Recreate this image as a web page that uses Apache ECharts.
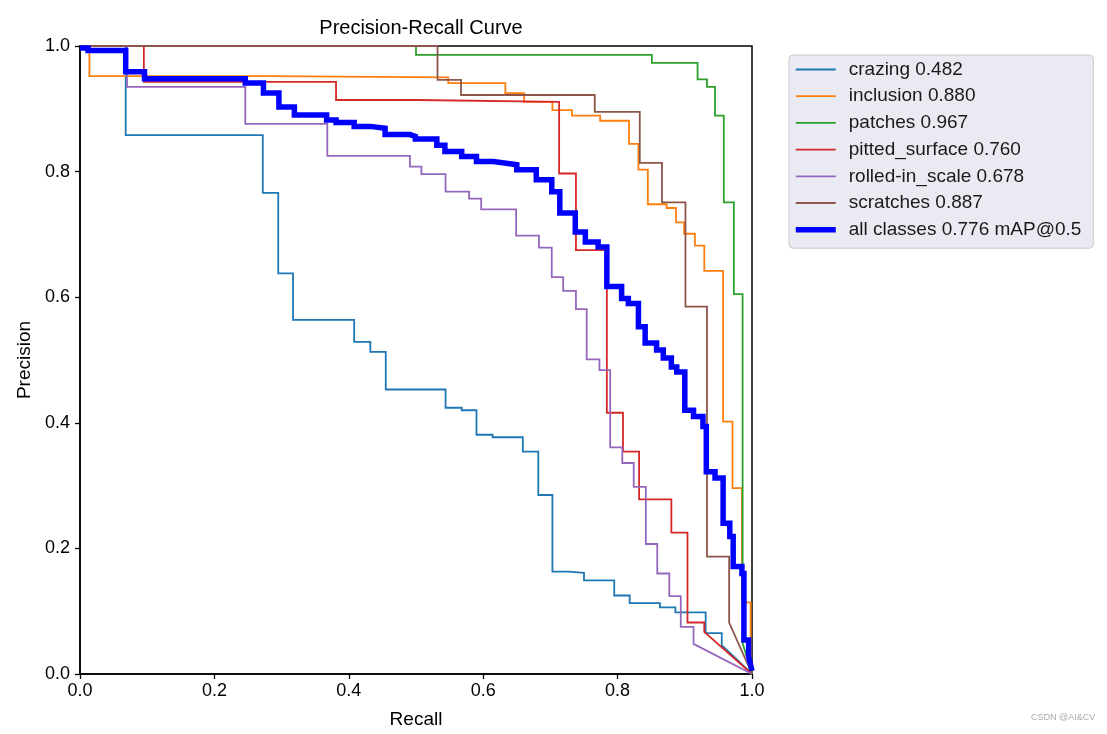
<!DOCTYPE html>
<html>
<head>
<meta charset="utf-8">
<script src="https://cdn.jsdelivr.net/npm/echarts@6/dist/echarts.min.js"></script>
<style>
  html, body { margin: 0; padding: 0; background: #fff; }
  #chart { width: 1107px; height: 734px; }
</style>
</head>
<body>
<div id="chart"></div>
<script>
// ---- data (recall, precision) ----
const classNames = ['crazing 0.482', 'inclusion 0.880', 'patches 0.967', 'pitted_surface 0.760', 'rolled-in_scale 0.678', 'scratches 0.887', 'all classes 0.776 mAP@0.5'];
const tickLabels = ['0.0', '0.2', '0.4', '0.6', '0.8', '1.0'];

const crazing = [[0,1],[0.068,1],[0.068,0.858],[0.272,0.858],[0.272,0.766],[0.295,0.766],[0.295,0.638],[0.317,0.638],[0.317,0.564],[0.408,0.564],[0.408,0.529],[0.432,0.529],[0.432,0.513],[0.455,0.513],[0.455,0.453],[0.544,0.453],[0.544,0.424],[0.568,0.424],[0.568,0.420],[0.590,0.420],[0.590,0.381],[0.614,0.381],[0.614,0.377],[0.659,0.377],[0.659,0.354],[0.682,0.354],[0.682,0.285],[0.703,0.285],[0.703,0.163],[0.727,0.163],[0.727,0.161],[0.750,0.161],[0.750,0.149],[0.795,0.149],[0.795,0.125],[0.818,0.125],[0.818,0.113],[0.863,0.113],[0.863,0.106],[0.886,0.106],[0.886,0.098],[0.931,0.098],[0.931,0.065],[0.955,0.065],[0.955,0.046],[1,0]];

const inclusion = [[0,1],[0.014,1],[0.014,0.952],[0.282,0.952],[0.282,0.950],[0.548,0.950],[0.548,0.941],[0.633,0.941],[0.633,0.925],[0.661,0.925],[0.661,0.911],[0.703,0.911],[0.703,0.898],[0.732,0.898],[0.732,0.889],[0.774,0.889],[0.774,0.881],[0.817,0.881],[0.817,0.844],[0.831,0.844],[0.831,0.803],[0.845,0.803],[0.845,0.748],[0.873,0.748],[0.873,0.742],[0.887,0.742],[0.887,0.719],[0.899,0.719],[0.899,0.701],[0.915,0.701],[0.915,0.682],[0.929,0.682],[0.929,0.642],[0.957,0.642],[0.957,0.402],[0.971,0.402],[0.971,0.296],[0.985,0.296],[0.985,0.114],[0.998,0.114],[0.998,0.01],[1,0]];

const patches = [[0,1],[0.5,1],[0.5,0.986],[0.851,0.986],[0.851,0.973],[0.919,0.973],[0.919,0.947],[0.933,0.947],[0.933,0.935],[0.945,0.935],[0.945,0.889],[0.958,0.889],[0.958,0.751],[0.973,0.751],[0.973,0.605],[0.986,0.605],[0.986,0.049],[1,0]];

const pittedSurface = [[0,1],[0.095,1],[0.095,0.943],[0.381,0.943],[0.381,0.914],[0.5,0.914],[0.5,0.911],[0.713,0.911],[0.713,0.797],[0.738,0.797],[0.738,0.675],[0.784,0.675],[0.784,0.416],[0.808,0.416],[0.808,0.354],[0.832,0.354],[0.832,0.278],[0.880,0.278],[0.880,0.225],[0.904,0.225],[0.904,0.082],[0.929,0.082],[0.929,0.067],[1,0]];

const rolledInScale = [[0,1],[0.070,1],[0.070,0.935],[0.246,0.935],[0.246,0.876],[0.368,0.876],[0.368,0.825],[0.491,0.825],[0.491,0.808],[0.508,0.808],[0.508,0.796],[0.544,0.796],[0.544,0.768],[0.579,0.768],[0.579,0.757],[0.597,0.757],[0.597,0.740],[0.649,0.740],[0.649,0.698],[0.683,0.698],[0.683,0.679],[0.702,0.679],[0.702,0.632],[0.719,0.632],[0.719,0.610],[0.738,0.610],[0.738,0.581],[0.754,0.581],[0.754,0.501],[0.773,0.501],[0.773,0.484],[0.789,0.484],[0.789,0.361],[0.807,0.361],[0.807,0.336],[0.824,0.336],[0.824,0.298],[0.842,0.298],[0.842,0.207],[0.859,0.207],[0.859,0.160],[0.877,0.160],[0.877,0.124],[0.894,0.124],[0.894,0.075],[0.913,0.075],[0.913,0.048],[1,0]];

const scratches = [[0,1],[0.532,1],[0.532,0.946],[0.567,0.946],[0.567,0.922],[0.766,0.922],[0.766,0.895],[0.833,0.895],[0.833,0.814],[0.866,0.814],[0.866,0.751],[0.901,0.751],[0.901,0.585],[0.933,0.585],[0.933,0.187],[0.966,0.187],[0.966,0.082],[1,0]];

const allClasses = [[0,0.997],[0.012,0.997],[0.012,0.993],[0.068,0.993],[0.068,0.959],[0.096,0.959],[0.096,0.948],[0.246,0.948],[0.246,0.941],[0.273,0.941],[0.273,0.925],[0.296,0.925],[0.296,0.903],[0.319,0.903],[0.319,0.890],[0.367,0.890],[0.367,0.882],[0.381,0.882],[0.381,0.878],[0.408,0.878],[0.408,0.872],[0.432,0.872],[0.432,0.869],[0.454,0.869],[0.454,0.859],[0.491,0.859],[0.491,0.856],[0.499,0.856],[0.499,0.852],[0.531,0.852],[0.531,0.842],[0.543,0.842],[0.543,0.832],[0.568,0.832],[0.568,0.824],[0.590,0.824],[0.590,0.816],[0.615,0.816],[0.615,0.813],[0.637,0.813],[0.637,0.811],[0.650,0.811],[0.650,0.803],[0.679,0.803],[0.679,0.787],[0.702,0.787],[0.702,0.768],[0.714,0.768],[0.714,0.734],[0.737,0.734],[0.737,0.704],[0.752,0.704],[0.752,0.688],[0.771,0.688],[0.771,0.680],[0.784,0.680],[0.784,0.617],[0.806,0.617],[0.806,0.598],[0.816,0.598],[0.816,0.590],[0.831,0.590],[0.831,0.553],[0.841,0.553],[0.841,0.527],[0.858,0.527],[0.858,0.516],[0.868,0.516],[0.868,0.503],[0.880,0.503],[0.880,0.489],[0.888,0.489],[0.888,0.481],[0.900,0.481],[0.900,0.420],[0.913,0.420],[0.913,0.410],[0.927,0.410],[0.927,0.394],[0.932,0.394],[0.932,0.322],[0.945,0.322],[0.945,0.312],[0.957,0.312],[0.957,0.240],[0.967,0.240],[0.967,0.219],[0.972,0.219],[0.972,0.171],[0.985,0.171],[0.985,0.160],[0.988,0.160],[0.988,0.054],[0.995,0.054],[0.995,0.028],[1,0.005]];

const seriesData = [crazing, inclusion, patches, pittedSurface, rolledInScale, scratches, allClasses];
const seriesColors = ['#1f77b4', '#ff7f0e', '#2ca02c', '#d62728', '#9467bd', '#8c564b', '#0000ff'];

const FONT = '"Liberation Sans", Arial, Helvetica, sans-serif';
const chart = echarts.init(document.getElementById('chart'), null, { renderer: 'canvas' });

const lineWidth = i => (i === 6 ? 5.5 : 1.8);

const series = seriesData.map((d, i) => ({
  name: classNames[i],
  type: 'line',
  data: d,
  symbol: 'none',
  showSymbol: false,
  animation: false,
  z: i === 6 ? 10 : 2 + i,
  lineStyle: { color: seriesColors[i], width: lineWidth(i), join: 'miter' },
  itemStyle: { color: seriesColors[i] },
  emphasis: { disabled: true }
}));

const option = {
  animation: false,
  textStyle: { fontFamily: FONT },
  title: {
    text: 'Precision-Recall Curve',
    left: 416, top: 13, textAlign: 'center',
    textStyle: { fontFamily: FONT, fontSize: 20, fontWeight: 'normal', color: '#000' }
  },
  grid: { left: 80, top: 46, width: 672, height: 628, show: true, borderColor: '#000', borderWidth: 1.5, backgroundColor: 'transparent' },
  xAxis: {
    type: 'value', min: 0, max: 1, interval: 0.2,
    name: 'Recall', nameLocation: 'middle', nameGap: 36,
    nameTextStyle: { fontFamily: FONT, fontSize: 19, color: '#000' },
    axisLine: { show: true, onZero: false, lineStyle: { color: '#000', width: 1.5 } },
    axisTick: { show: true, length: 5, lineStyle: { color: '#000', width: 1.3 } },
    axisLabel: { fontFamily: FONT, fontSize: 18, color: '#000', margin: 8, formatter: v => tickLabels[Math.round(v * 5)] },
    splitLine: { show: false }
  },
  yAxis: {
    type: 'value', min: 0, max: 1, interval: 0.2,
    name: 'Precision', nameLocation: 'middle', nameGap: 44, nameRotate: 90,
    nameTextStyle: { fontFamily: FONT, fontSize: 19, color: '#000' },
    axisLine: { show: true, onZero: false, lineStyle: { color: '#000', width: 1.5 } },
    axisTick: { show: true, length: 5, lineStyle: { color: '#000', width: 1.3 } },
    axisLabel: { fontFamily: FONT, fontSize: 18, color: '#000', margin: 10, formatter: v => tickLabels[Math.round(v * 5)] },
    splitLine: { show: false }
  },
  legend: {
    orient: 'vertical', left: 789, top: 55,
    data: classNames.map((n, i) => ({ name: n, lineStyle: { width: lineWidth(i), color: seriesColors[i] } })),
    itemWidth: 40, itemHeight: 12, itemGap: 7.7,
    itemStyle: { opacity: 0 },
    padding: [5, 12, 9, 4],
    backgroundColor: '#eaeaf2', borderColor: '#cccccc', borderWidth: 1, borderRadius: 4,
    selectedMode: false,
    textStyle: { fontFamily: FONT, fontSize: 19, color: '#1a1a1a', lineHeight: 19, padding: [0, 0, 0, 8] }
  },
  graphic: [{
    type: 'text', left: 1031, top: 713,
    style: { text: 'CSDN @AI&CV', fontFamily: FONT, fontSize: 9, fill: '#aaaaaa' }
  }],
  series: series
};
chart.setOption(option);
</script>
</body>
</html>
